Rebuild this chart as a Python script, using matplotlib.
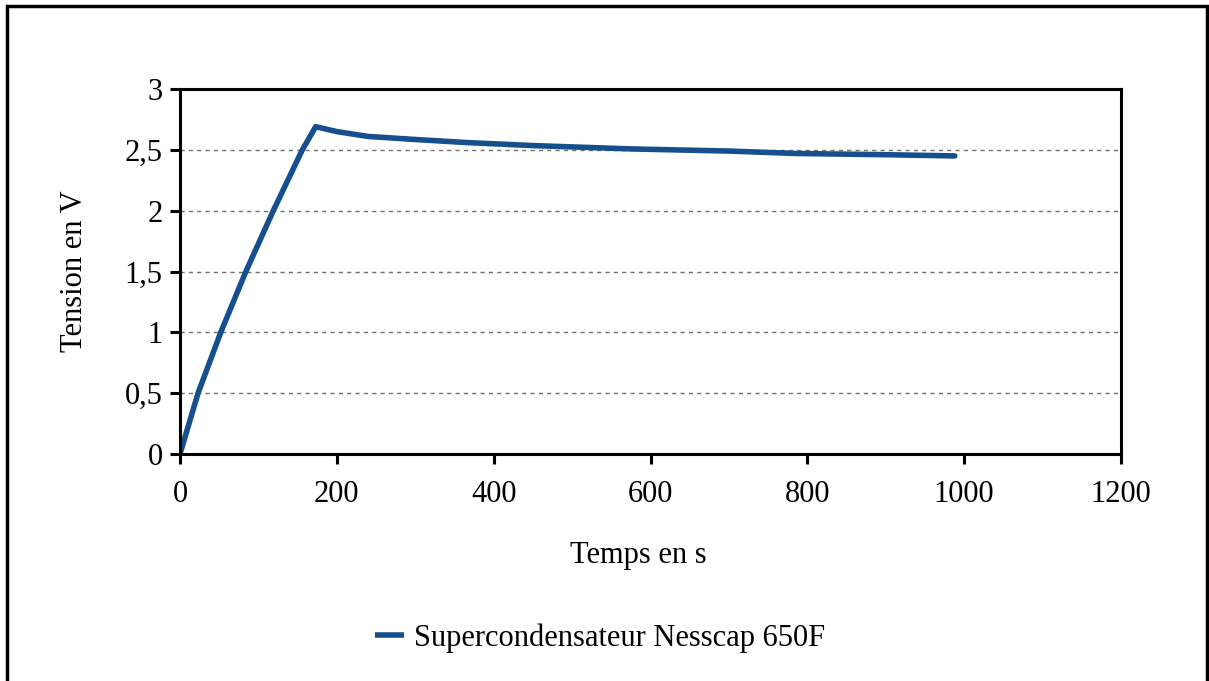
import matplotlib
matplotlib.use("Agg")
import matplotlib.pyplot as plt
from matplotlib.patches import Rectangle

# Data
temps = [0, 23, 52, 84, 119, 156, 173,
         200, 240, 300, 365, 450, 578, 700, 786, 900, 988]
tension = [0, 0.5, 1.0, 1.5, 2.0, 2.5, 2.69,
           2.65, 2.61, 2.585, 2.56, 2.535, 2.507, 2.49, 2.47, 2.46, 2.45]
xticks = [0, 200, 400, 600, 800, 1000, 1200]
yticks = [0, 0.5, 1, 1.5, 2, 2.5, 3]
ytick_labels = ["0", "0,5", "1", "1,5", "2", "2,5", "3"]
serie = "Supercondensateur Nesscap 650F"

plt.rcParams['font.family'] = ['Liberation Serif', 'DejaVu Serif']

W, H = 1209, 681
fig = plt.figure(figsize=(W / 100, H / 100), dpi=100)
ax = fig.add_axes([180 / W, 1 - 454 / H, (1121 - 180) / W, (454 - 89) / H])

line, = ax.plot(temps, tension, color='#154f8e', lw=4.0, solid_capstyle='round',
                solid_joinstyle='round', label=serie)

ax.set_xlim(0, 1200)
ax.set_ylim(0, 3)
ax.set_xticks(xticks)
ax.set_xticklabels([str(t) for t in xticks])
ax.set_yticks(yticks)
ax.set_yticklabels(ytick_labels)
ax.tick_params(axis='both', direction='out', length=7.5, width=2.2, labelsize=22,
               top=False, right=False)
ax.tick_params(axis='x', pad=11)
ax.tick_params(axis='y', pad=5)
for s in ax.spines.values():
    s.set_linewidth(2.2)
    s.set_color('black')

for y in yticks[1:-1]:
    ax.axhline(y, color='#707070', lw=1.0, ls=(0, (3, 3)), zorder=0)

ax.set_xlabel("Temps en s", fontsize=22, labelpad=22)
ax.xaxis.set_label_coords(638 / W, 1 - 555 / H, transform=fig.transFigure)
ax.xaxis.label.set_va('center')
ax.set_ylabel("Tension en V", fontsize=22, labelpad=26)

leg = fig.legend(handles=[line], labels=[serie], loc='center', bbox_to_anchor=(600 / W, 1 - 638 / H),
                 frameon=False, fontsize=22, handlelength=0.95, handletextpad=0.3)
for h in leg.legend_handles:
    h.set_solid_capstyle('butt')

fig.add_artist(Rectangle((6.5 / W, -0.05), (1207 - 6.5) / W, 1.05 - 6 / H,
                         transform=fig.transFigure, fill=False, lw=2.5, edgecolor='black'))

fig.savefig("out.png", dpi=100)
